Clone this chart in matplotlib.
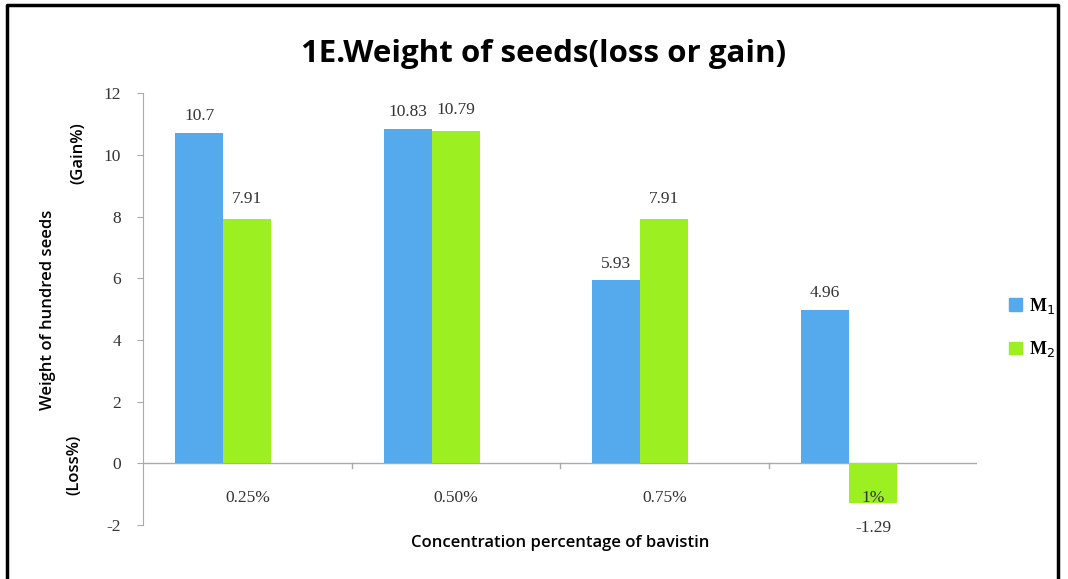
import numpy as np
import matplotlib
matplotlib.use("Agg")
import matplotlib.pyplot as plt
from matplotlib.patches import Patch

# data
categories = ["0.25%", "0.50%", "0.75%", "1%"]
m1 = [10.7, 10.83, 5.93, 4.96]
m2 = [7.91, 10.79, 7.91, -1.29]
yticks = [-2, 0, 2, 4, 6, 8, 10, 12]

blue = "#55aaee"
green = "#9cf022"
serif = "Liberation Serif"
sans = "Open Sans"

fig = plt.figure(figsize=(10.68, 5.79), dpi=100)
ax = fig.add_axes([0.134, 0.093, 0.781, 0.746])

x = np.arange(len(categories))
w = 0.23
# excel leaves room for a third (empty) series, so the pair sits left of centre
b1 = ax.bar(x - 1.5 * w, m1, width=w, align="edge", color=blue, zorder=2)
b2 = ax.bar(x - 0.5 * w, m2, width=w, align="edge", color=green, zorder=2)

# data labels
for rect, v in zip(b1, m1):
    ax.text(rect.get_x() + rect.get_width() / 2, v + 0.55, f"{v:g}",
            ha="center", va="center", fontsize=12.5, family=serif, color="#333333")
for rect, v in zip(b2, m2):
    y = v + 0.65 if v >= 0 else v - 0.8
    ax.text(rect.get_x() + rect.get_width() / 2, y, f"{v:g}",
            ha="center", va="center", fontsize=12.5,
            family=serif, color="#333333", clip_on=False)

ax.set_xlim(-0.5, len(categories) - 0.5)
ax.set_ylim(-2, 12)
ax.set_yticks(yticks)
ax.set_yticklabels([str(t) for t in yticks], family=serif, fontsize=12.5, color="#333333")
ax.tick_params(axis="y", length=4, color="#aaaaaa", pad=12)

# category labels sit below the zero line
ax.set_xticks([])
for i, c in enumerate(categories):
    ax.text(i, -1.12, c, ha="center", va="center", fontsize=12.5, family=serif,
            color="#333333", zorder=3)
for b in np.arange(0.5, len(categories) - 0.5):
    ax.plot([b, b], [0, -0.15], color="#aaaaaa", lw=1, zorder=1)

ax.axhline(0, color="#aaaaaa", lw=1, zorder=1)
for s in ["top", "right", "bottom"]:
    ax.spines[s].set_visible(False)
ax.spines["left"].set_color("#aaaaaa")

ax.set_xlabel("Concentration percentage of bavistin", family=sans, fontsize=12,
              fontweight="semibold", labelpad=7)
fig.text(0.045, 0.465, "Weight of hundred seeds", rotation=90, ha="center", va="center",
         family=sans, fontsize=12, fontweight="semibold")
fig.text(0.073, 0.735, "(Gain%)", rotation=90, ha="center", va="center",
         family=sans, fontsize=12, fontweight="semibold")
fig.text(0.070, 0.197, "(Loss%)", rotation=90, ha="center", va="center",
         family=sans, fontsize=12, fontweight="semibold")

fig.text(0.509, 0.907, "1E.Weight of seeds(loss or gain)", ha="center", va="center",
         family=sans, fontsize=22.5, fontweight="bold")

handles = [Patch(color=blue), Patch(color=green)]
leg = fig.legend(handles, ["M$_1$", "M$_2$"], loc="center left",
                 bbox_to_anchor=(0.93, 0.434), frameon=False, handlelength=0.7,
                 handleheight=0.7, labelspacing=1.3, handletextpad=0.4,
                 prop={"family": serif, "size": 13, "weight": "bold"})

# outer frame
fig.add_artist(plt.Line2D([0.0066, 0.0066, 0.991, 0.991], [0.0, 0.991, 0.991, 0.0],
                          transform=fig.transFigure, color="black", lw=2.5))

fig.savefig("out.png", dpi=100)
